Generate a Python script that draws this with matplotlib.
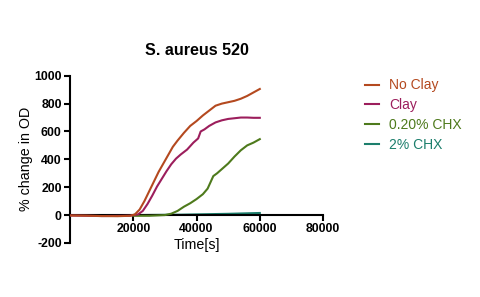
import matplotlib
matplotlib.use("Agg")
from matplotlib import pyplot as plt

plt.rcParams['font.family'] = ['Liberation Sans', 'DejaVu Sans']
plt.rcParams['axes.unicode_minus'] = False

# No Clay
t_noclay = [0, 5000, 10000, 15000, 19000, 20500, 22000, 23500, 25000, 26500, 28000,
            29500, 31000, 32500, 34000, 36000, 38000, 40000, 42000, 44000, 46000,
            48000, 50000, 52000, 54000, 56000, 58000, 60000]
y_noclay = [-3, -4, -7, -8, -5, 5, 40, 100, 170, 240, 310, 370, 430, 490, 535, 590,
            640, 675, 715, 750, 785, 800, 810, 820, 835, 855, 880, 905]

# Clay
t_clay = [0, 10000, 19000, 20000, 21500, 23000, 24500, 26000, 27500, 29000, 30500,
          32000, 33500, 35000, 37000, 39000, 40500, 41300, 42500, 44000, 46000,
          48000, 50000, 52000, 54000, 56000, 58000, 60000]
y_clay = [-3, -7, -5, 0, 5, 30, 80, 140, 205, 260, 315, 365, 405, 435, 470, 520,
          550, 600, 615, 640, 665, 680, 690, 695, 700, 700, 698, 698]

# 0.20% CHX
t_chx020 = [20000, 25000, 30000, 32000, 34000, 36000, 38000, 40000, 42000, 43500,
            44500, 45300, 46500, 48000, 50000, 52000, 54000, 56000, 58000, 60000]
y_chx020 = [-5, -5, 0, 10, 30, 60, 85, 115, 150, 190, 240, 280, 300, 330, 370, 420,
            465, 500, 520, 545]

# 2% CHX
t_chx2 = [20000, 25000, 30000, 35000, 40000, 45000, 50000, 55000, 60000]
y_chx2 = [0, 1, 2, 3, 5, 7, 9, 12, 15]

colors = ['#B4491F', '#9C1E5C', '#4E7A1C', '#1C7E6C']

fig = plt.figure(figsize=(4.8, 2.97), dpi=100)
ax = fig.add_axes([0.146, 0.182, 0.527, 0.563])

ax.plot(t_chx2, y_chx2, color=colors[3], lw=1.5, label='2% CHX', zorder=2)
ax.plot(t_chx020, y_chx020, color=colors[2], lw=1.5, label='0.20% CHX', zorder=3)
ax.plot(t_clay, y_clay, color=colors[1], lw=1.5, label='Clay', zorder=4)
ax.plot(t_noclay, y_noclay, color=colors[0], lw=1.5, label='No Clay', zorder=5)

ax.set_xlim(0, 80000)
ax.set_ylim(-200, 1000)
ax.set_xticks([20000, 40000, 60000, 80000])
ax.set_yticks([-200, 0, 200, 400, 600, 800, 1000])

ax.spines['top'].set_visible(False)
ax.spines['right'].set_visible(False)
ax.spines['bottom'].set_position(('data', 0))
ax.spines['bottom'].set_linewidth(1.5)
ax.spines['left'].set_linewidth(1.5)
ax.tick_params(width=1.5, length=4, labelsize=8.8, pad=2)
for lbl in ax.get_xticklabels() + ax.get_yticklabels():
    lbl.set_fontweight('bold')

ax.set_title('S. aureus 520', fontsize=11.6, fontweight='bold', pad=15)
ax.set_ylabel('% change in OD', fontsize=10.3, labelpad=1)
ax.set_xlabel('Time[s]', fontsize=10.3, labelpad=2)

handles, labels = ax.get_legend_handles_labels()
order = [3, 2, 1, 0]
fig.legend([handles[i] for i in order], [labels[i] for i in order],
           loc='upper left', bbox_to_anchor=(0.735, 0.778), frameon=False,
           fontsize=10, handlelength=1.0, handletextpad=0.7, labelspacing=0.42,
           labelcolor='linecolor')

fig.savefig('out.png', dpi=100)
